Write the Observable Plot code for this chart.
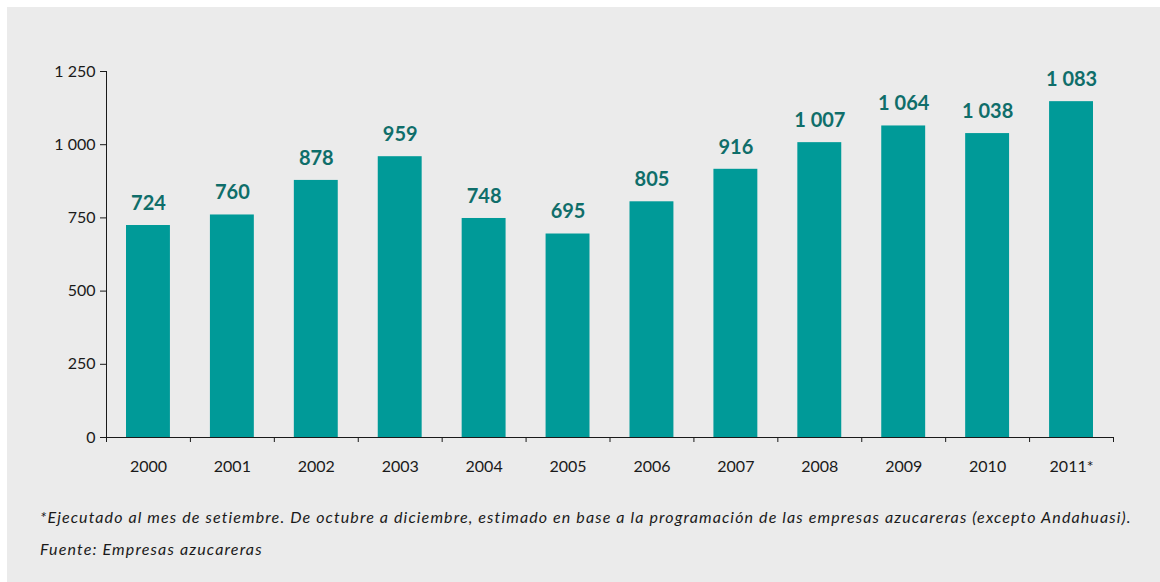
<!DOCTYPE html>
<html>
<head>
<meta charset="utf-8">
<script src="https://cdn.jsdelivr.net/npm/d3@7"></script>
<script src="https://cdn.jsdelivr.net/npm/@observablehq/plot@0.6"></script>
<style>
  html, body { margin: 0; padding: 0; background: #ffffff; }
  #panel { position: absolute; left: 7px; top: 7px; width: 1153px; height: 575px; background: #ebebeb; font-family: Lato, "Open Sans", sans-serif; color: #1a1a1a; }
  #chart { position: absolute; left: 0; top: 0; }
  .note { position: absolute; left: 33px; font-style: italic; font-size: 16px; white-space: nowrap; color: #1a1a1a; }
  #note1 { top: 500px; letter-spacing: 1.12px; }
  #note2 { top: 532px; letter-spacing: 1.16px; }
</style>
</head>
<body>
<div id="panel">
  <div id="chart"></div>
  <div class="note" id="note1">*Ejecutado al mes de setiembre. De octubre a diciembre, estimado en base a la programación de las empresas azucareras (excepto Andahuasi).</div>
  <div class="note" id="note2">Fuente: Empresas azucareras</div>
</div>
<script>
const years = ["2000","2001","2002","2003","2004","2005","2006","2007","2008","2009","2010","2011*"];
const values = [724, 760, 878, 959, 748, 695, 805, 916, 1007, 1064, 1038, 1083];
// bar heights as drawn in the reference (the 2011 bar is drawn taller than its label)
const barHeights = [724, 760, 878, 959, 748, 695, 805, 916, 1007, 1064, 1038, 1147];
const yTicks = [0, 250, 500, 750, 1000, 1250];

const data = years.map((y, i) => ({i, year: y, value: values[i], bar: barHeights[i]}));
const fmt = v => d3.format(",")(v).replace(/,/g, " ");

const plot = Plot.plot({
  width: 1153,
  height: 480,
  marginTop: 64,
  marginBottom: 50,
  marginLeft: 99,
  marginRight: 47,
  style: {background: "transparent", fontFamily: "Lato, 'Open Sans', sans-serif", fontSize: "16px", color: "#1a1a1a"},
  x: {type: "linear", domain: [0, years.length]},
  y: {domain: [0, 1250]},
  marks: [
    Plot.rectY(data, {x1: "i", x2: d => d.i + 1, y: "bar", fill: "#009a98", insetLeft: 20, insetRight: 20}),
    Plot.axisY({ticks: yTicks, tickSize: 6, tickPadding: 5, tickFormat: fmt, label: null, stroke: "#1a1a1a", fill: "#1a1a1a", fontSize: 16}),
    Plot.axisX({ticks: d3.range(years.length + 1), tickSize: 5, tickFormat: () => "", label: null, stroke: "#1a1a1a"}),
    Plot.ruleX([0], {y1: 0, y2: 1250, stroke: "#1a1a1a"}),
    Plot.ruleY([0], {x1: 0, x2: years.length, stroke: "#1a1a1a"}),
    Plot.text(data, {x: d => d.i + 0.5, y: 0, text: "year", dy: 29, fill: "#1a1a1a", fontSize: 16}),
    Plot.text(data, {x: d => d.i + 0.5, y: "bar", text: d => fmt(d.value), dy: -22, fill: "#0f6e6a", fontSize: 20, fontWeight: "bold"})
  ]
});
document.getElementById("chart").appendChild(plot);
</script>
</body>
</html>
